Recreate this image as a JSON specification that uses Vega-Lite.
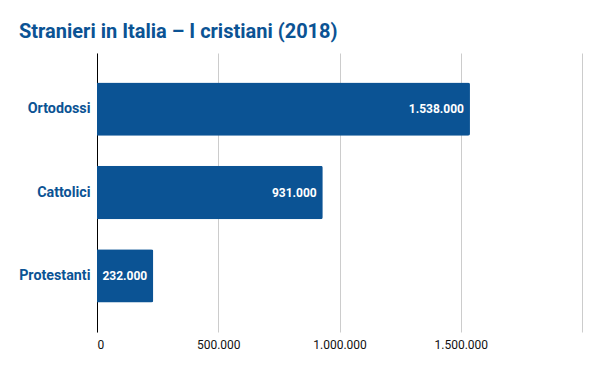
{
  "$schema": "https://vega.github.io/schema/vega-lite/v6.json",
  "width": 485,
  "height": 279,
  "autosize": {"type": "none"},
  "padding": {"left": 97, "top": 53, "right": 18, "bottom": 39},
  "background": "white",
  "config": {
    "locale": {"number": {"decimal": ",", "thousands": ".", "grouping": [3], "currency": ["€", ""]}},
    "view": {"stroke": null},
    "font": "Roboto"
  },
  "title": {
    "text": "Stranieri in Italia – I cristiani (2018)",
    "anchor": "start",
    "frame": "group",
    "dx": -78,
    "offset": 11,
    "font": "Roboto",
    "fontSize": 20,
    "fontWeight": "bold",
    "color": "#0b5394"
  },
  "data": {
    "values": [
      {"gruppo": "Ortodossi", "valore": 1538000},
      {"gruppo": "Cattolici", "valore": 931000},
      {"gruppo": "Protestanti", "valore": 232000}
    ]
  },
  "encoding": {
    "y": {
      "field": "gruppo",
      "type": "nominal",
      "sort": null,
      "scale": {"paddingInner": 0.36, "paddingOuter": 0.355},
      "axis": {
        "title": null,
        "ticks": false,
        "domainColor": "#000000",
        "domainWidth": 1,
        "labelFont": "Roboto",
        "labelFontSize": 14.3,
        "labelFontWeight": "bold",
        "labelColor": "#0b5394",
        "labelPadding": 7
      }
    },
    "x": {
      "field": "valore",
      "type": "quantitative",
      "scale": {"domain": [0, 2000000], "nice": false},
      "axis": {
        "title": null,
        "values": [0, 500000, 1000000, 1500000, 2000000],
        "labelExpr": "datum.value >= 2000000 ? '' : format(datum.value, ',d')",
        "domain": false,
        "ticks": false,
        "gridColor": "#cccccc",
        "gridWidth": 1,
        "labelFont": "Roboto",
        "labelFontSize": 12,
        "labelColor": "#111111",
        "labelPadding": 7
      }
    }
  },
  "layer": [
    {
      "mark": {"type": "bar", "color": "#0b5394", "cornerRadiusEnd": 2}
    },
    {
      "mark": {"type": "text", "align": "right", "baseline": "middle", "dx": -6, "color": "white", "font": "Roboto", "fontSize": 12, "fontWeight": "bold"},
      "encoding": {
        "text": {"field": "valore", "type": "quantitative", "format": ",d"}
      }
    }
  ]
}
